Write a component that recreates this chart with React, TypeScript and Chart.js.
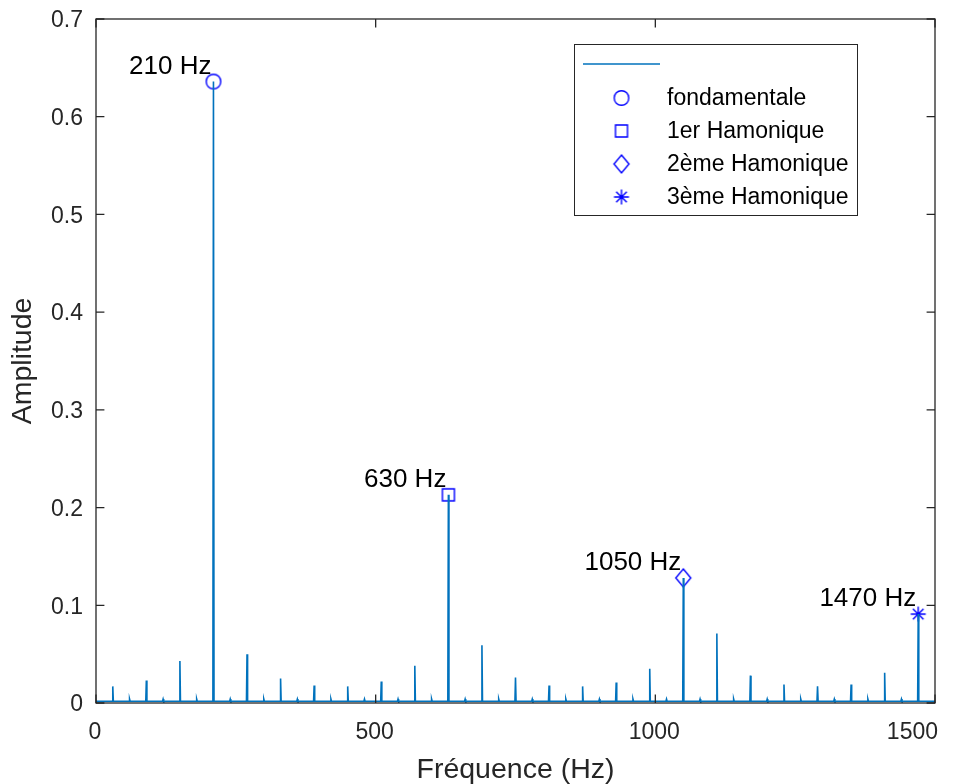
import React, { useEffect, useRef } from "react";
import { Chart, registerables } from "chart.js";

Chart.register(...registerables);

// ---------- data ----------
const xTickValues = [0, 500, 1000, 1500];
const yTickValues = [0, 0.1, 0.2, 0.3, 0.4, 0.5, 0.6, 0.7];

const peakFreqs = [30, 90, 150, 210, 270, 330, 390, 450, 510, 570, 630, 690, 750, 810, 870, 930, 990, 1050, 1110, 1170, 1230, 1290, 1350, 1410, 1470];
const peakAmps = [0.017, 0.023, 0.043, 0.636, 0.05, 0.025, 0.018, 0.017, 0.022, 0.038, 0.213, 0.059, 0.026, 0.018, 0.017, 0.021, 0.035, 0.128, 0.071, 0.028, 0.019, 0.017, 0.019, 0.031, 0.091];
const minorFreqs = [60, 120, 180, 240, 300, 360, 420, 480, 540, 600, 660, 720, 780, 840, 900, 960, 1020, 1080, 1140, 1200, 1260, 1320, 1380, 1440];
const minorAmps = [0.004, 0.004, 0.004, 0.004, 0.004, 0.004, 0.004, 0.004, 0.004, 0.004, 0.004, 0.004, 0.004, 0.004, 0.004, 0.004, 0.004, 0.004, 0.004, 0.004, 0.004, 0.004, 0.004, 0.004];
const noiseFloor = 0.0018;

const harmonicLabels = ["fondamentale", "1er Hamonique", "2ème Hamonique", "3ème Hamonique"];
const harmonicFreqs = [210, 630, 1050, 1470];
const harmonicAmps = [0.636, 0.213, 0.128, 0.091];
const harmonicTexts = ["210 Hz", "630 Hz", "1050 Hz", "1470 Hz"];
const harmonicMarkers = ["circle", "square", "diamond", "star"];

const FONT = '"Liberation Sans", Arial, Helvetica, sans-serif';
const AXIS_COLOR = "#262626";
const LINE_COLOR = "#0072BD";
const MARKER_COLOR = "#0000FF";

function makeMarker(kind: string): HTMLCanvasElement {
  const c = document.createElement("canvas");
  c.width = 24;
  c.height = 24;
  const g = c.getContext("2d")!;
  g.strokeStyle = MARKER_COLOR;
  g.lineWidth = 1.4;
  g.beginPath();
  if (kind === "circle") {
    g.arc(12, 12, 7.3, 0, Math.PI * 2);
  } else if (kind === "square") {
    g.rect(6, 6, 12, 12);
  } else if (kind === "diamond") {
    g.moveTo(12, 3);
    g.lineTo(19.5, 12);
    g.lineTo(12, 21);
    g.lineTo(4.5, 12);
    g.closePath();
  } else {
    g.moveTo(12, 4.5);
    g.lineTo(12, 19.5);
    g.moveTo(4.5, 12);
    g.lineTo(19.5, 12);
    g.moveTo(6.7, 6.7);
    g.lineTo(17.3, 17.3);
    g.moveTo(17.3, 6.7);
    g.lineTo(6.7, 17.3);
  }
  g.stroke();
  return c;
}

function buildSpectrum() {
  const spikes: { f: number; a: number }[] = [];
  peakFreqs.forEach((f, i) => spikes.push({ f, a: peakAmps[i] }));
  minorFreqs.forEach((f, i) => spikes.push({ f, a: minorAmps[i] }));
  spikes.sort((p, q) => p.f - q.f);
  const pts: { x: number; y: number }[] = [{ x: xTickValues[0], y: noiseFloor }];
  spikes.forEach((s) => {
    pts.push({ x: s.f - 1, y: noiseFloor });
    pts.push({ x: s.f, y: s.a });
    pts.push({ x: s.f + 1, y: noiseFloor });
  });
  pts.push({ x: xTickValues[xTickValues.length - 1], y: noiseFloor });
  return pts;
}

function zeroPadding(s: any) {
  s.paddingLeft = 0;
  s.paddingRight = 0;
  s.paddingTop = 0;
  s.paddingBottom = 0;
}

export default function App() {
  const ref = useRef<HTMLCanvasElement | null>(null);

  useEffect(() => {
    document.body.style.margin = "0";
    const canvas = ref.current!;
    const markers = harmonicMarkers.map(makeMarker);

    const overlay = {
      id: "matlabOverlay",
      afterDatasetsDraw(chart: any) {
        const { ctx, chartArea } = chart;
        const { left, right, top, bottom } = chartArea;
        const xs = chart.scales.x;
        const ys = chart.scales.y;
        ctx.save();
        ctx.strokeStyle = AXIS_COLOR;
        ctx.lineWidth = 1.3;
        ctx.beginPath();
        const tl = 8.4;
        xTickValues.forEach((v) => {
          const px = xs.getPixelForValue(v);
          ctx.moveTo(px, bottom);
          ctx.lineTo(px, bottom - tl);
          ctx.moveTo(px, top);
          ctx.lineTo(px, top + tl);
        });
        yTickValues.forEach((v) => {
          const py = ys.getPixelForValue(v);
          ctx.moveTo(left, py);
          ctx.lineTo(left + tl, py);
          ctx.moveTo(right, py);
          ctx.lineTo(right - tl, py);
        });
        ctx.stroke();
        ctx.strokeRect(left, top, right - left, bottom - top);

        // x tick labels (last one kept inside the figure, as in the reference)
        ctx.fillStyle = AXIS_COLOR;
        ctx.font = `23px ${FONT}`;
        ctx.textBaseline = "middle";
        xTickValues.forEach((v, i) => {
          const px = xs.getPixelForValue(v);
          const last = i === xTickValues.length - 1;
          ctx.textAlign = last ? "right" : "center";
          ctx.fillText(String(v), last ? px + 3 : px - 1, bottom + 30);
        });

        // annotations
        ctx.fillStyle = "#000";
        ctx.font = `26px ${FONT}`;
        ctx.textAlign = "right";
        ctx.textBaseline = "middle";
        harmonicFreqs.forEach((f, i) => {
          const px = xs.getPixelForValue(f);
          const py = ys.getPixelForValue(harmonicAmps[i]);
          ctx.fillText(harmonicTexts[i], px - 2, py - 15);
        });

        // legend
        const lx = 574.5, ly = 44.5, lw = 283, lh = 171;
        ctx.fillStyle = "#fff";
        ctx.fillRect(lx, ly, lw, lh);
        ctx.strokeStyle = AXIS_COLOR;
        ctx.lineWidth = 1;
        ctx.strokeRect(lx, ly, lw, lh);
        ctx.strokeStyle = LINE_COLOR;
        ctx.lineWidth = 1.5;
        ctx.beginPath();
        ctx.moveTo(583, 64);
        ctx.lineTo(660, 64);
        ctx.stroke();
        ctx.font = `23px ${FONT}`;
        ctx.textAlign = "left";
        ctx.textBaseline = "middle";
        ctx.fillStyle = "#000";
        const rows = [98, 131, 164, 197];
        harmonicLabels.forEach((lab, i) => {
          ctx.drawImage(markers[i], 621.5 - 12, rows[i] - 12);
          ctx.fillText(lab, 667, rows[i] + 1);
        });
        ctx.restore();
      },
    };

    const markerDatasets = harmonicFreqs.map((f, i) => ({
      type: "scatter" as const,
      label: harmonicLabels[i],
      data: [{ x: f, y: harmonicAmps[i] }],
      pointStyle: markers[i],
      pointRadius: 8,
      showLine: false,
      clip: false as any,
    }));

    const chart = new Chart(canvas, {
      type: "line",
      data: {
        datasets: [
          {
            label: "",
            data: buildSpectrum(),
            borderColor: LINE_COLOR,
            borderWidth: 1.6,
            pointRadius: 0,
            tension: 0,
            fill: false,
          } as any,
          ...(markerDatasets as any[]),
        ],
      },
      options: {
        responsive: false,
        animation: false,
        events: [],
        layout: { padding: { top: 19, right: 31, left: 0, bottom: 0 } },
        plugins: { legend: { display: false }, tooltip: { enabled: false } },
        scales: {
          x: {
            type: "linear",
            min: 0,
            max: 1500,
            grid: { display: false, drawTicks: false },
            border: { display: false },
            ticks: {
              display: false,
              stepSize: 500,
              maxRotation: 0,
            },
            title: {
              display: true,
              text: "Fréquence (Hz)",
              color: AXIS_COLOR,
              font: { family: FONT, size: 28.5, lineHeight: 1 },
              padding: { top: 0, bottom: 0 },
            },
            afterFit: (s: any) => {
              s.height = 81;
              zeroPadding(s);
            },
          },
          y: {
            type: "linear",
            min: 0,
            max: 0.7,
            grid: { display: false, drawTicks: false },
            border: { display: false },
            ticks: {
              stepSize: 0.1,
              padding: 13,
              labelOffset: 2,
              color: AXIS_COLOR,
              font: { family: FONT, size: 23 },
              callback: (v: any) => String(Number(Number(v).toFixed(1))),
            },
            title: {
              display: true,
              text: "Amplitude",
              color: AXIS_COLOR,
              font: { family: FONT, size: 28.5, lineHeight: 1 },
              padding: { top: 9, bottom: 0 },
            },
            afterFit: (s: any) => {
              s.width = 96;
              zeroPadding(s);
            },
          },
        },
      },
      plugins: [overlay],
    });
    return () => chart.destroy();
  }, []);

  return (
    <div style={{ width: 966, height: 784, background: "#fff" }}>
      <canvas ref={ref} width={966} height={784} style={{ display: "block" }} />
    </div>
  );
}
